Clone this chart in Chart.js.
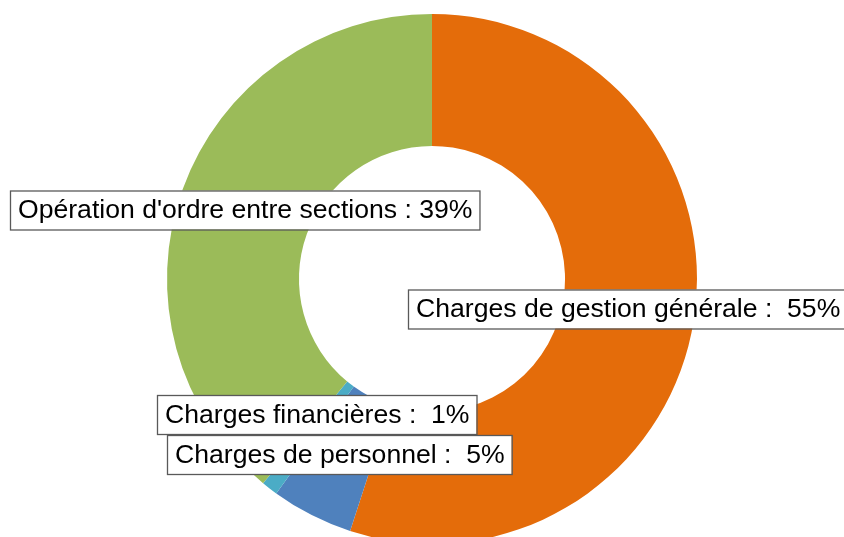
<!DOCTYPE html>
<html>
<head>
<meta charset="utf-8">
<script src="https://cdn.jsdelivr.net/npm/chart.js@4.4.0/dist/chart.umd.min.js"></script>
<style>
  html, body { margin: 0; padding: 0; background: #fff; overflow: hidden; }
  #wrap { width: 844px; height: 558px; position: relative; }
</style>
</head>
<body>
<div id="wrap"><canvas id="pieChart"></canvas></div>
<script>
/* chart data */
const categories = ["Charges de gestion générale", "Charges de personnel", "Charges financières", "Opération d'ordre entre sections"];
const values = [55, 5, 1, 39];
const sliceColors = ["#E46C0A", "#4F81BD", "#4BACC6", "#9BBB59"];
const separators = [" :  ", " :  ", " :  ", " : "];

/* where each label box sits (left edge, vertical middle) */
const labelBoxes = [
  { left: 408, mid: 309 },
  { left: 167, mid: 454.5 },
  { left: 157, mid: 414.5 },
  { left: 10, mid: 210 }
];

const labelPlugin = {
  id: 'boxLabels',
  afterDraw: (chart) => {
    let ctx = chart.ctx;
    ctx.save();
    ctx.font = '26.6px "Liberation Sans", Arial, sans-serif';
    ctx.textBaseline = 'middle';
    // draw lower ones first so the "personnel" box overlaps like the original
    [3, 0, 2, 1].forEach(i => {
      let text = categories[i] + separators[i] + values[i] + "%";
      let w = ctx.measureText(text).width;
      let b = labelBoxes[i];
      let boxW = w + 15, boxH = 39;
      ctx.fillStyle = "#ffffff";
      ctx.fillRect(b.left, b.mid - boxH / 2, boxW, boxH);
      ctx.strokeStyle = "#595959";
      ctx.lineWidth = 1.3;
      ctx.strokeRect(b.left + 0.5, b.mid - boxH / 2 + 0.5, boxW, boxH);
      ctx.fillStyle = "#000000";
      ctx.fillText(text, b.left + 8, b.mid + 1);
    });
    ctx.restore();
  }
};

new Chart(document.getElementById('pieChart').getContext('2d'), {
  type: 'doughnut',
  data: {
    labels: categories,
    datasets: [{
      data: values,
      backgroundColor: sliceColors,
      borderWidth: 0,
      radius: 265,
      cutout: '50.2%'
    }]
  },
  options: {
    responsive: true,
    maintainAspectRatio: false,
    animation: false,
    layout: { padding: { left: 20, top: 0, right: 0, bottom: 0 } },
    plugins: {
      legend: { display: false },
      tooltip: { enabled: false }
    }
  },
  plugins: [labelPlugin]
});
</script>
</body>
</html>
